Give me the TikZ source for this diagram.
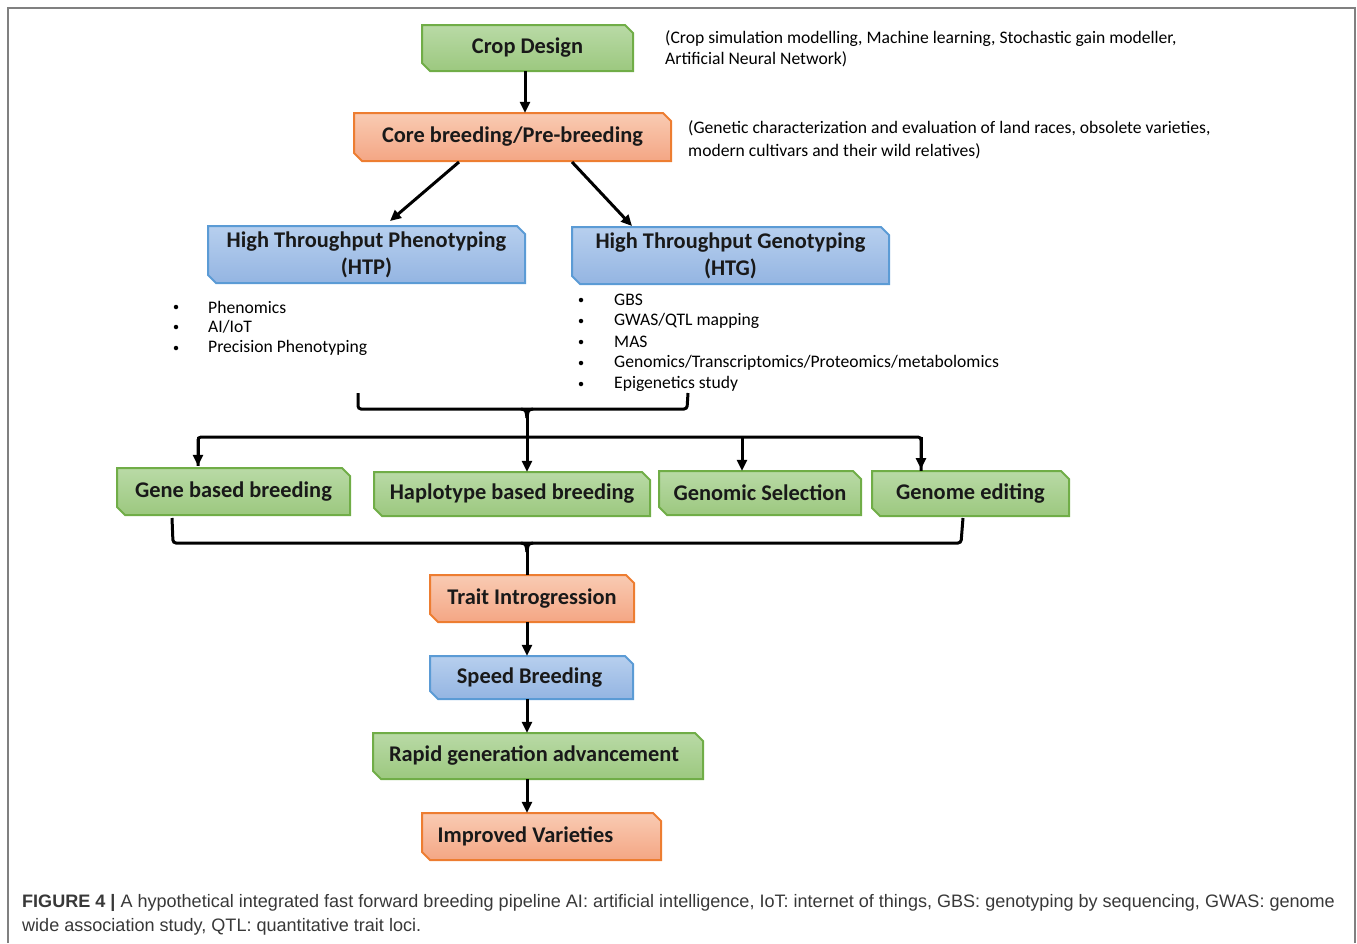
\documentclass[tikz,border=0pt]{standalone}
\usepackage{fontspec}
\setmainfont{Carlito}
\newfontfamily\capfont{Liberation Sans}
\usetikzlibrary{arrows.meta}
\definecolor{gbd}{HTML}{70AD47}\definecolor{gtop}{HTML}{B9DAA6}\definecolor{gbot}{HTML}{9CC87F}
\definecolor{obd}{HTML}{ED7D31}\definecolor{otop}{HTML}{F9CBB3}\definecolor{obot}{HTML}{F4A684}
\definecolor{bbd}{HTML}{5B9BD5}\definecolor{btop}{HTML}{B7CFEE}\definecolor{bbot}{HTML}{94B5E2}
\definecolor{captxt}{HTML}{383838}
\newcommand\cbox[8][0]{%
  \path[#7] (#3,#4) -- (#5-8,#4) -- (#5,#4+8) -- (#5,#6) -- (#3+8,#6) -- (#3,#6-8) -- cycle;
  \node[boxtext, minimum width={(#5-#3)*1pt}, minimum height={(#6-#4)*1pt}, xshift=#1pt] (#2) at ({(#3+#5)/2},{(#4+#6)/2}) {#8};}
\begin{document}
\begin{tikzpicture}[x=1pt,y=-1pt,
  greenbox/.style={draw=gbd, line width=2pt, top color=gtop, bottom color=gbot},
  orangebox/.style={draw=obd, line width=2pt, top color=otop, bottom color=obot},
  bluebox/.style={draw=bbd, line width=2pt, top color=btop, bottom color=bbot},
  boxtext/.style={inner sep=0pt, font=\fontsize{22.4}{27}\selectfont\bfseries, text=black!90, align=center},
  side/.style={inner sep=0pt, anchor=west, font=\fontsize{17.6}{20.5}\selectfont, align=left},
  bul/.style={inner sep=0pt, anchor=west, font=\fontsize{17.6}{22}\selectfont},
  dot/.style={circle, fill=black, inner sep=0pt, minimum size=4.5pt},
  arr/.style={line width=3pt, -{Triangle[length=11pt,width=10pt]}},
  ln/.style={line width=3pt, rounded corners=3pt},
  frame/.style={draw=black!50, line width=2pt}]
\useasboundingbox (0,0) rectangle (1357,943);
\draw[frame] (8,943) -- (8,8) -- (1355,8) -- (1355,943);

\cbox{crop}{422}{25}{633}{71}{greenbox}{Crop Design}
\cbox{core}{354}{113}{671}{161}{orangebox}{Core breeding/Pre-breeding}
\cbox{htp}{208}{226}{525}{283}{bluebox}{High Throughput Phenotyping\\(HTP)}
\cbox{htg}{572}{227}{889}{284}{bluebox}{High Throughput Genotyping\\(HTG)}
\cbox{gene}{117}{468}{350}{515}{greenbox}{Gene based breeding}
\cbox{hap}{374}{472}{650}{516}{greenbox}{Haplotype based breeding}
\cbox{gs}{659}{471}{861}{515}{greenbox}{Genomic Selection}
\cbox{ge}{872}{471}{1069}{516}{greenbox}{Genome editing}
\cbox{trait}{430}{575}{634}{622}{orangebox}{Trait Introgression}
\cbox[-2]{speed}{430}{656}{633}{699}{bluebox}{Speed Breeding}
\cbox[-4]{rapid}{373}{733}{703}{779}{greenbox}{Rapid generation advancement}
\cbox[-16]{impr}{422}{813}{661}{860}{orangebox}{Improved Varieties}

\node[side] (t1) at (665,49) {(Crop simulation modelling, Machine learning, Stochastic gain modeller,\\Artificial Neural Network)};
\node[side, font=\fontsize{17.6}{23}\selectfont] (t2) at (688,139.5) {(Genetic characterization and evaluation of land races, obsolete varieties,\\modern cultivars and their wild relatives)};

\foreach \y/\t [count=\i] in {307/{Phenomics}, 327/{AI/IoT}, 348/{Precision Phenotyping}}{
  \node[dot] (lb\i) at (176,\y) {};
  \node[bul] (lt\i) at (208,\y) {\t};}
\foreach \y/\t [count=\i] in {300/{GBS}, 321/{GWAS/QTL mapping}, 342/{MAS}, 363/{Genomics/Transcriptomics/Proteomics/metabolomics}, 384/{Epigenetics study}}{
  \node[dot] (rb\i) at (581,\y) {};
  \node[bul] (rt\i) at (614,\y) {\t};}

% top arrows
\draw[arr] (crop.south -| 525,0) -- (core.north -| 525,0);
\coordinate (c1) at (459,162); \coordinate (c2) at (572,162);
\coordinate (h1) at (390,221); \coordinate (h2) at (632,226);
\draw[arr] (c1) -- (h1);
\draw[arr] (c2) -- (h2);

% first bracket
\coordinate (b1l) at (358,393); \coordinate (b1r) at (688,393);
\coordinate (b1m) at (527,409);
\draw[ln] (b1l) -- (358,409) -- (687,409) -- (b1r);
\draw[line width=3pt] (521,409) .. controls (526,410) .. (527,418);
\draw[line width=3pt] (533,409) .. controls (528,410) .. (527,418);
\coordinate (hr) at (921,437);
\draw[ln] (gene.north -| 198,0) ++(0,-2) |- (hr) -- (ge.north -| 921,0);
\draw[arr] (gene.north -| 198,0) ++(0,-31) -- ++(0,29);
\draw[arr] (921,437) -- (921,469);
\draw[arr] (b1m) -- (hap.north -| 527,0);
\draw[arr] (742,437) -- (gs.north -| 742,0);

% second bracket
\coordinate (b2l) at (172,518); \coordinate (b2r) at (963,518);
\coordinate (b2m) at (527,543);
\draw[ln] (b2l) -- (173,543) -- (961,543) -- (b2r);
\draw[line width=3pt] (521,543) .. controls (526,544) .. (527,552);
\draw[line width=3pt] (533,543) .. controls (528,544) .. (527,552);
\draw[line width=3pt] (b2m) -- (trait.north -| 527,0);

% lower arrows
\draw[arr] (trait.south -| 527,0) -- (speed.north -| 527,0);
\draw[arr] (speed.south -| 527,0) -- (rapid.north -| 527,0);
\draw[arr] (rapid.south -| 527,0) -- (impr.north -| 527,0);

% caption
\node[inner sep=0pt, anchor=west, text=captxt, font=\capfont\fontsize{18.05}{24}\selectfont] (cap1) at (22,903)
  {\textbf{FIGURE 4 |} A hypothetical integrated fast forward breeding pipeline AI: artificial intelligence, IoT: internet of things, GBS: genotyping by sequencing, GWAS: genome};
\node[inner sep=0pt, anchor=west, text=captxt, font=\capfont\fontsize{18.05}{24}\selectfont] (cap2) at (22,927)
  {wide association study, QTL: quantitative trait loci.};
\end{tikzpicture}
\end{document}
